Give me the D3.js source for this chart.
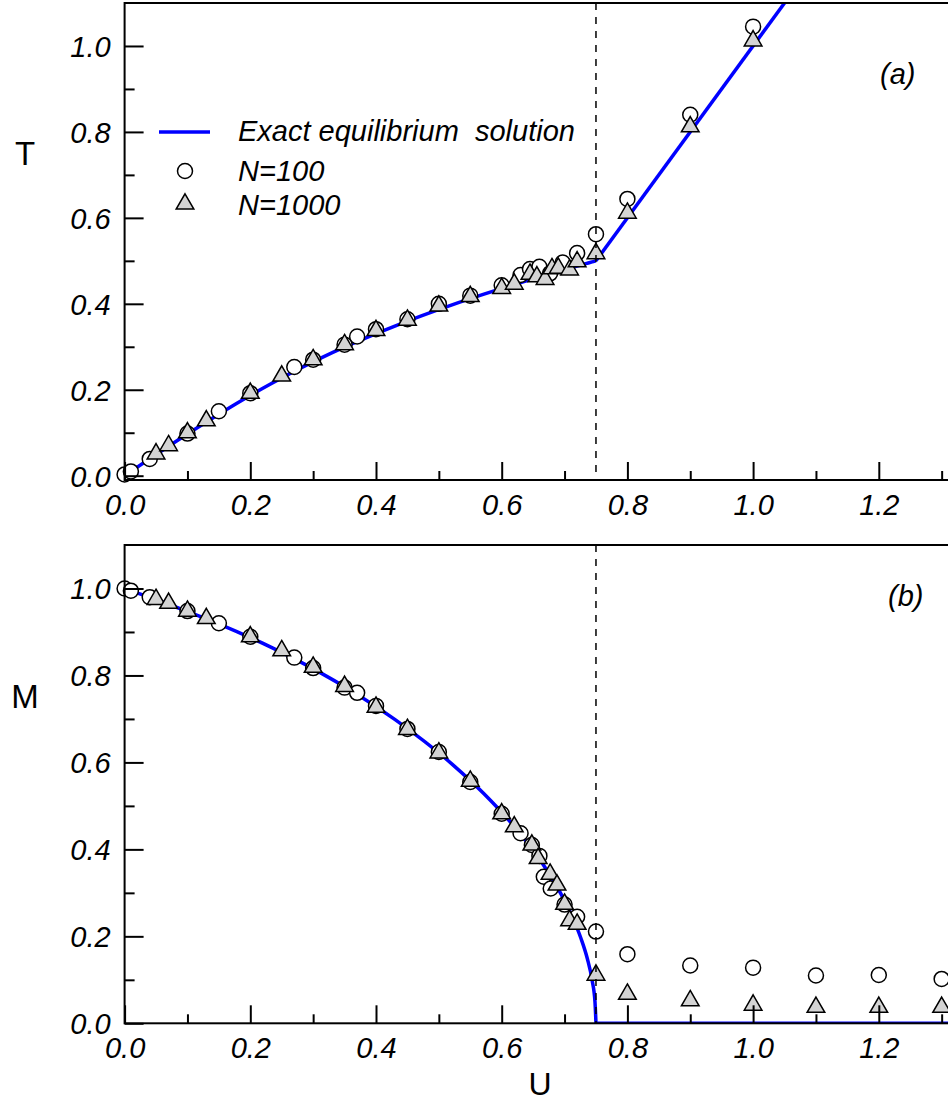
<!DOCTYPE html>
<html>
<head>
<meta charset="utf-8">
<script src="https://cdn.jsdelivr.net/npm/d3@7/dist/d3.min.js"></script>
<style>
  body { margin: 0; background: #fff; overflow: hidden; }
  svg { display: block; }
</style>
</head>
<body>
<div id="chart"></div>
<script>
// exact equilibrium solution, below the transition
var uExact = [0, 0.0494, 0.0975, 0.1378, 0.1902, 0.2351, 0.3070, 0.3604, 0.4310, 0.5210,
              0.5718, 0.6236, 0.6724, 0.6981, 0.7131, 0.7259, 0.7363, 0.7438, 0.7484, 0.75];
var tExact = [0, 0.0487, 0.0949, 0.1322, 0.1787, 0.2159, 0.2700, 0.3060, 0.3489, 0.3975,
              0.4224, 0.4464, 0.4679, 0.4788, 0.4850, 0.4903, 0.4945, 0.4975, 0.4994, 0.5];
var mExact = [1, 0.9747, 0.9486, 0.9255, 0.8934, 0.8635, 0.8100, 0.7650, 0.6978, 0.5962,
              0.5280, 0.4464, 0.3509, 0.2873, 0.2425, 0.1961, 0.1484, 0.0995, 0.0499, 0];
// above the transition
var uHigh = [0.75, 1.4];
var tHigh = [0.5, 1.8];
var mHigh = [0, 0];

// panel (a) : T(U)
var uA100 = [0.0, 0.01, 0.04, 0.10, 0.15, 0.20, 0.27, 0.30, 0.35, 0.37, 0.40, 0.45, 0.50,
             0.55, 0.60, 0.63, 0.645, 0.66, 0.677, 0.697, 0.72, 0.75, 0.80, 0.90, 1.00];
var tA100 = [0.003, 0.01, 0.039, 0.098, 0.15, 0.192, 0.253, 0.27, 0.305, 0.324, 0.341, 0.364, 0.40,
             0.419, 0.443, 0.467, 0.481, 0.486, 0.471, 0.496, 0.518, 0.562, 0.644, 0.84, 1.045];
var uA1000 = [0.05, 0.07, 0.10, 0.13, 0.20, 0.25, 0.30, 0.35, 0.40, 0.45, 0.50, 0.55, 0.60,
              0.62, 0.645, 0.656, 0.669, 0.68, 0.69, 0.708, 0.72, 0.75, 0.80, 0.90, 1.00];
var tA1000 = [0.051, 0.07, 0.10, 0.128, 0.192, 0.232, 0.27, 0.305, 0.338, 0.362, 0.395, 0.417, 0.436,
              0.446, 0.469, 0.463, 0.457, 0.482, 0.483, 0.479, 0.498, 0.517, 0.611, 0.812, 1.012];

// panel (b) : M(U)
var uB100 = [0.0, 0.01, 0.04, 0.10, 0.15, 0.20, 0.27, 0.30, 0.35, 0.37, 0.40, 0.45, 0.50, 0.55, 0.60,
             0.63, 0.648, 0.66, 0.667, 0.678, 0.70, 0.72, 0.75, 0.80, 0.90, 1.00, 1.10, 1.20, 1.30];
var mB100 = [1.0, 0.995, 0.98, 0.948, 0.92, 0.889, 0.841, 0.817, 0.772, 0.76, 0.73, 0.677, 0.624, 0.555, 0.482,
             0.437, 0.41, 0.385, 0.337, 0.31, 0.273, 0.245, 0.211, 0.159, 0.133, 0.128, 0.11, 0.111, 0.102];
var uB1000 = [0.05, 0.07, 0.10, 0.13, 0.20, 0.25, 0.30, 0.35, 0.40, 0.45, 0.50, 0.55, 0.60, 0.62,
              0.648, 0.658, 0.677, 0.688, 0.70, 0.708, 0.72, 0.75, 0.80, 0.90, 1.00, 1.10, 1.20, 1.30];
var mB1000 = [0.975, 0.966, 0.948, 0.931, 0.889, 0.857, 0.819, 0.775, 0.727, 0.676, 0.622, 0.557, 0.482, 0.452,
              0.41, 0.379, 0.343, 0.318, 0.274, 0.236, 0.228, 0.111, 0.067, 0.052, 0.042, 0.037, 0.037, 0.037];

var xMajor = [0, 0.2, 0.4, 0.6, 0.8, 1.0, 1.2];
var xMinor = [0.1, 0.3, 0.5, 0.7, 0.9, 1.1, 1.3];
var yMajor = [0, 0.2, 0.4, 0.6, 0.8, 1.0];
var yMinor = [0.1, 0.3, 0.5, 0.7, 0.9];
var uCritical = 0.75;

var legendLabels = ["Exact equilibrium  solution", "N=100", "N=1000"];

/**
 * sizes
 */
var width = 948, height = 1104;
var font = "'Liberation Sans', Arial, Helvetica, sans-serif";
var blue = "#0000ff", grey = "#d4d4d4";

var svg = d3.select("#chart")
    .append("svg")
    .attr("width", width)
    .attr("height", height);

var x = d3.scaleLinear().domain([0, 1.4]).range([124.6, 1004.5]);

var panels = [
  { tag: "a", name: "T", yDomain: [-0.01, 1.1], yRange: [480, 3], low: tExact, high: tHigh,
    u100: uA100, v100: tA100, u1000: uA1000, v1000: tA1000, nameY: 165, tagX: 880, tagY: 84 },
  { tag: "b", name: "M", yDomain: [0, 1.1], yRange: [1023.3, 545], low: mExact, high: mHigh,
    u100: uB100, v100: mB100, u1000: uB1000, v1000: mB1000, nameY: 708, tagX: 888, tagY: 606 }
];

panels.forEach(drawPanel);

// U label under everything
svg.append("text")
    .attr("x", 540).attr("y", 1095)
    .attr("text-anchor", "middle")
    .style("font-family", font).style("font-size", "32px")
    .text("U");

drawLegend();

function drawPanel(p) {
    var y = d3.scaleLinear().domain(p.yDomain).range(p.yRange);
    var g = svg.append("g");

    g.append("clipPath").attr("id", "clip-" + p.tag)
        .append("rect")
        .attr("x", x.range()[0]).attr("y", p.yRange[1])
        .attr("width", x.range()[1] - x.range()[0])
        .attr("height", p.yRange[0] - p.yRange[1]);

    // exact solution
    var curveLine = d3.line().x(d => x(d[0])).y(d => y(d[1])).curve(d3.curveMonotoneX);
    var straight = d3.line().x(d => x(d[0])).y(d => y(d[1]));
    var lines = g.append("g").attr("clip-path", "url(#clip-" + p.tag + ")");
    lines.append("path")
        .datum(d3.zip(uExact, p.low))
        .attr("d", curveLine)
        .attr("fill", "none").attr("stroke", blue).attr("stroke-width", 3.5);
    lines.append("path")
        .datum(d3.zip(uHigh, p.high))
        .attr("d", straight)
        .attr("fill", "none").attr("stroke", blue).attr("stroke-width", 3.5);

    // N=100 circles
    g.append("g").selectAll("circle")
        .data(d3.zip(p.u100, p.v100))
        .join("circle")
        .attr("cx", d => x(d[0])).attr("cy", d => y(d[1]))
        .attr("r", 7.5)
        .attr("fill", "#fff").attr("stroke", "#000").attr("stroke-width", 1.5);

    // N=1000 triangles
    var tri = d3.symbol().type(d3.symbolTriangle).size(135);
    g.append("g").selectAll("path")
        .data(d3.zip(p.u1000, p.v1000))
        .join("path")
        .attr("d", tri)
        .attr("transform", d => "translate(" + x(d[0]) + "," + y(d[1]) + ")")
        .attr("fill", grey).attr("stroke", "#000").attr("stroke-width", 1.5);

    // transition
    g.append("line")
        .attr("x1", x(uCritical)).attr("x2", x(uCritical))
        .attr("y1", p.yRange[1]).attr("y2", p.yRange[0])
        .attr("stroke", "#000").attr("stroke-width", 1.5)
        .attr("stroke-dasharray", "7,7");

    // axes, ticks point inward
    var yAxis = g.append("g")
        .attr("transform", "translate(" + x.range()[0] + ",0)")
        .call(d3.axisLeft(y).tickValues(yMajor).tickSize(-19).tickSizeOuter(0)
            .tickPadding(14).tickFormat(d3.format(".1f")));
    g.append("g")
        .attr("transform", "translate(" + x.range()[0] + ",0)")
        .call(d3.axisLeft(y).tickValues(yMinor).tickSize(-10).tickSizeOuter(0).tickFormat(""));

    var xAxis = g.append("g")
        .attr("transform", "translate(0," + p.yRange[0] + ")")
        .call(d3.axisBottom(x).tickValues(xMajor).tickSize(-18).tickSizeOuter(0)
            .tickPadding(16).tickFormat(d3.format(".1f")));
    g.append("g")
        .attr("transform", "translate(0," + p.yRange[0] + ")")
        .call(d3.axisBottom(x).tickValues(xMinor).tickSize(-9).tickSizeOuter(0).tickFormat(""));

    g.selectAll(".domain").remove();
    g.selectAll(".tick line").attr("stroke", "#000").attr("stroke-width", 2);
    [xAxis, yAxis].forEach(function(a) {
        a.selectAll("text")
            .style("font-family", font).style("font-size", "29px")
            .style("font-style", "italic").attr("fill", "#000");
    });
    yAxis.selectAll("text").attr("dy", "0.36em");
    xAxis.selectAll("text").attr("dy", "0.66em");

    // frame
    g.append("rect")
        .attr("x", x.range()[0]).attr("y", p.yRange[1])
        .attr("width", x.range()[1] - x.range()[0])
        .attr("height", p.yRange[0] - p.yRange[1])
        .attr("fill", "none").attr("stroke", "#000").attr("stroke-width", 2);

    // axis name and panel tag
    g.append("text")
        .attr("x", 25).attr("y", p.nameY)
        .attr("text-anchor", "middle")
        .style("font-family", font).style("font-size", "33px")
        .text(p.name);
    g.append("text")
        .attr("x", p.tagX).attr("y", p.tagY)
        .style("font-family", font).style("font-size", "29px").style("font-style", "italic")
        .text("(" + p.tag + ")");
}

function drawLegend() {
    var lg = svg.append("g");
    lg.append("line")
        .attr("x1", 159).attr("x2", 210).attr("y1", 132).attr("y2", 132)
        .attr("stroke", blue).attr("stroke-width", 3.5);
    lg.append("circle")
        .attr("cx", 185).attr("cy", 171).attr("r", 7.5)
        .attr("fill", "#fff").attr("stroke", "#000").attr("stroke-width", 1.5);
    lg.append("path")
        .attr("d", d3.symbol().type(d3.symbolTriangle).size(135))
        .attr("transform", "translate(185,204)")
        .attr("fill", grey).attr("stroke", "#000").attr("stroke-width", 1.5);
    lg.selectAll("text")
        .data(legendLabels)
        .join("text")
        .attr("x", 238)
        .attr("y", (d, i) => [141, 181, 215][i])
        .attr("xml:space", "preserve")
        .style("white-space", "pre")
        .style("font-family", font).style("font-size", "29px").style("font-style", "italic")
        .text(d => d);
}
</script>
</body>
</html>
